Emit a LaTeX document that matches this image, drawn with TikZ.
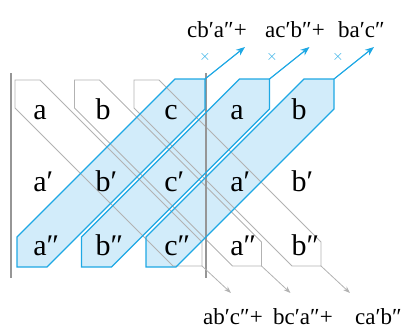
\documentclass[tikz,border=0pt]{standalone}
\usepackage{fontspec}
\setmainfont{Liberation Serif}
\usepackage{tikz}
\usetikzlibrary{arrows.meta}

\definecolor{sarblue}{RGB}{30,168,228}
\definecolor{sarfill}{RGB}{210,236,250}
\definecolor{sargray}{RGB}{178,178,178}
\definecolor{sarbar}{RGB}{150,150,150}

\begin{document}
\begin{tikzpicture}[
  x=1pt, y=-1pt,
  gband/.style={draw=sargray, line width=0.8pt},
  bfill/.style={fill=sarfill},
  bband/.style={draw=sarblue, line width=1.2pt},
  bar/.style={draw=sarbar, line width=2.4pt},
  entry/.style={inner sep=0pt, anchor=base, font=\fontsize{30}{32}\selectfont},
  term/.style={inner sep=0pt, anchor=base west, font=\fontsize{23}{25}\selectfont},
  cross/.style={text=sarblue, inner sep=0pt, font=\fontsize{14}{15}\selectfont},
  uparrow/.style={draw=sarblue, line width=1.2pt, -{Stealth[length=9pt,width=7pt]}},
  downarrow/.style={draw=sargray, line width=0.8pt, -{Stealth[length=7pt,width=5pt]}}
]
  \useasboundingbox (0,0) rectangle (407,332);

  % rising bands, fill first
  \path[bfill] (17,237) -- (175,79) -- (205,79) -- (205,109) -- (47,267) -- (17,267) -- cycle;
  \path[bfill] (81.5,237) -- (239.5,79) -- (269.5,79) -- (269.5,109) -- (111.5,267) -- (81.5,267) -- cycle;
  \path[bfill] (146,237) -- (304,79) -- (334,79) -- (334,109) -- (176,267) -- (146,267) -- cycle;

  % falling bands
  \draw[gband] (15,80) -- (40,80) -- (202,242) -- (202,266) -- (173,266) -- (15,108) -- cycle;
  \draw[gband] (74.5,80) -- (99.5,80) -- (261.5,242) -- (261.5,266) -- (232.5,266) -- (74.5,108) -- cycle;
  \draw[gband] (134,80) -- (159,80) -- (321,242) -- (321,266) -- (292,266) -- (134,108) -- cycle;

  % determinant bars
  \draw[bar] (11,73) -- (11,278);
  \draw[bar] (206,73) -- (206,278);

  \draw[bband] (17,237) -- (175,79) -- (205,79) -- (205,109) -- (47,267) -- (17,267) -- cycle;
  \draw[bband] (81.5,237) -- (239.5,79) -- (269.5,79) -- (269.5,109) -- (111.5,267) -- (81.5,267) -- cycle;
  \draw[bband] (146,237) -- (304,79) -- (334,79) -- (334,109) -- (176,267) -- (146,267) -- cycle;

  % arrow ends
  \coordinate (up1) at (205,79);
  \coordinate (up2) at (269.5,79);
  \coordinate (up3) at (334,79);
  \coordinate (uptip1) at (245,47);
  \coordinate (uptip2) at (309.5,47);
  \coordinate (uptip3) at (374,47);
  \coordinate (dn1) at (202,266);
  \coordinate (dn2) at (261.5,266);
  \coordinate (dn3) at (321,266);
  \coordinate (dntip1) at (231,293);
  \coordinate (dntip2) at (290.5,293);
  \coordinate (dntip3) at (350,293);

  \draw[uparrow] (up1) -- (uptip1);
  \draw[uparrow] (up2) -- (uptip2);
  \draw[uparrow] (up3) -- (uptip3);
  \draw[downarrow] (dn1) -- (dntip1);
  \draw[downarrow] (dn2) -- (dntip2);
  \draw[downarrow] (dn3) -- (dntip3);

  \node[cross] (x1) at (205,57) {$\times$};
  \node[cross] (x2) at (272,57) {$\times$};
  \node[cross] (x3) at (338,57) {$\times$};

  % entries
  \node[entry] (r1a) at (40,119) {a};
  \node[entry] (r1b) at (103,119) {b};
  \node[entry] (r1c) at (171,119) {c};
  \node[entry] (r1d) at (237,119) {a};
  \node[entry] (r1e) at (299,119) {b};
  \node[entry] (r2a) at (40,191) {a\rlap{′}};
  \node[entry] (r2b) at (103,191) {b\rlap{′}};
  \node[entry] (r2c) at (171,191) {c\rlap{′}};
  \node[entry] (r2d) at (237,191) {a\rlap{′}};
  \node[entry] (r2e) at (299,191) {b\rlap{′}};
  \node[entry] (r3a) at (40,255) {a\rlap{″}};
  \node[entry] (r3b) at (103,255) {b\rlap{″}};
  \node[entry] (r3c) at (171,255) {c\rlap{″}};
  \node[entry] (r3d) at (237,255) {a\rlap{″}};
  \node[entry] (r3e) at (299,255) {b\rlap{″}};

  % products
  \node[term] (p1) at (187,37) {cb′a″+};
  \node[term] (p2) at (265,37) {ac′b″+};
  \node[term] (p3) at (338,37) {ba′c″};
  \node[term] (m1) at (203,324) {ab′c″+};
  \node[term] (m2) at (273,324) {bc′a″+};
  \node[term] (m3) at (355,324) {ca′b″};
\end{tikzpicture}
\end{document}
